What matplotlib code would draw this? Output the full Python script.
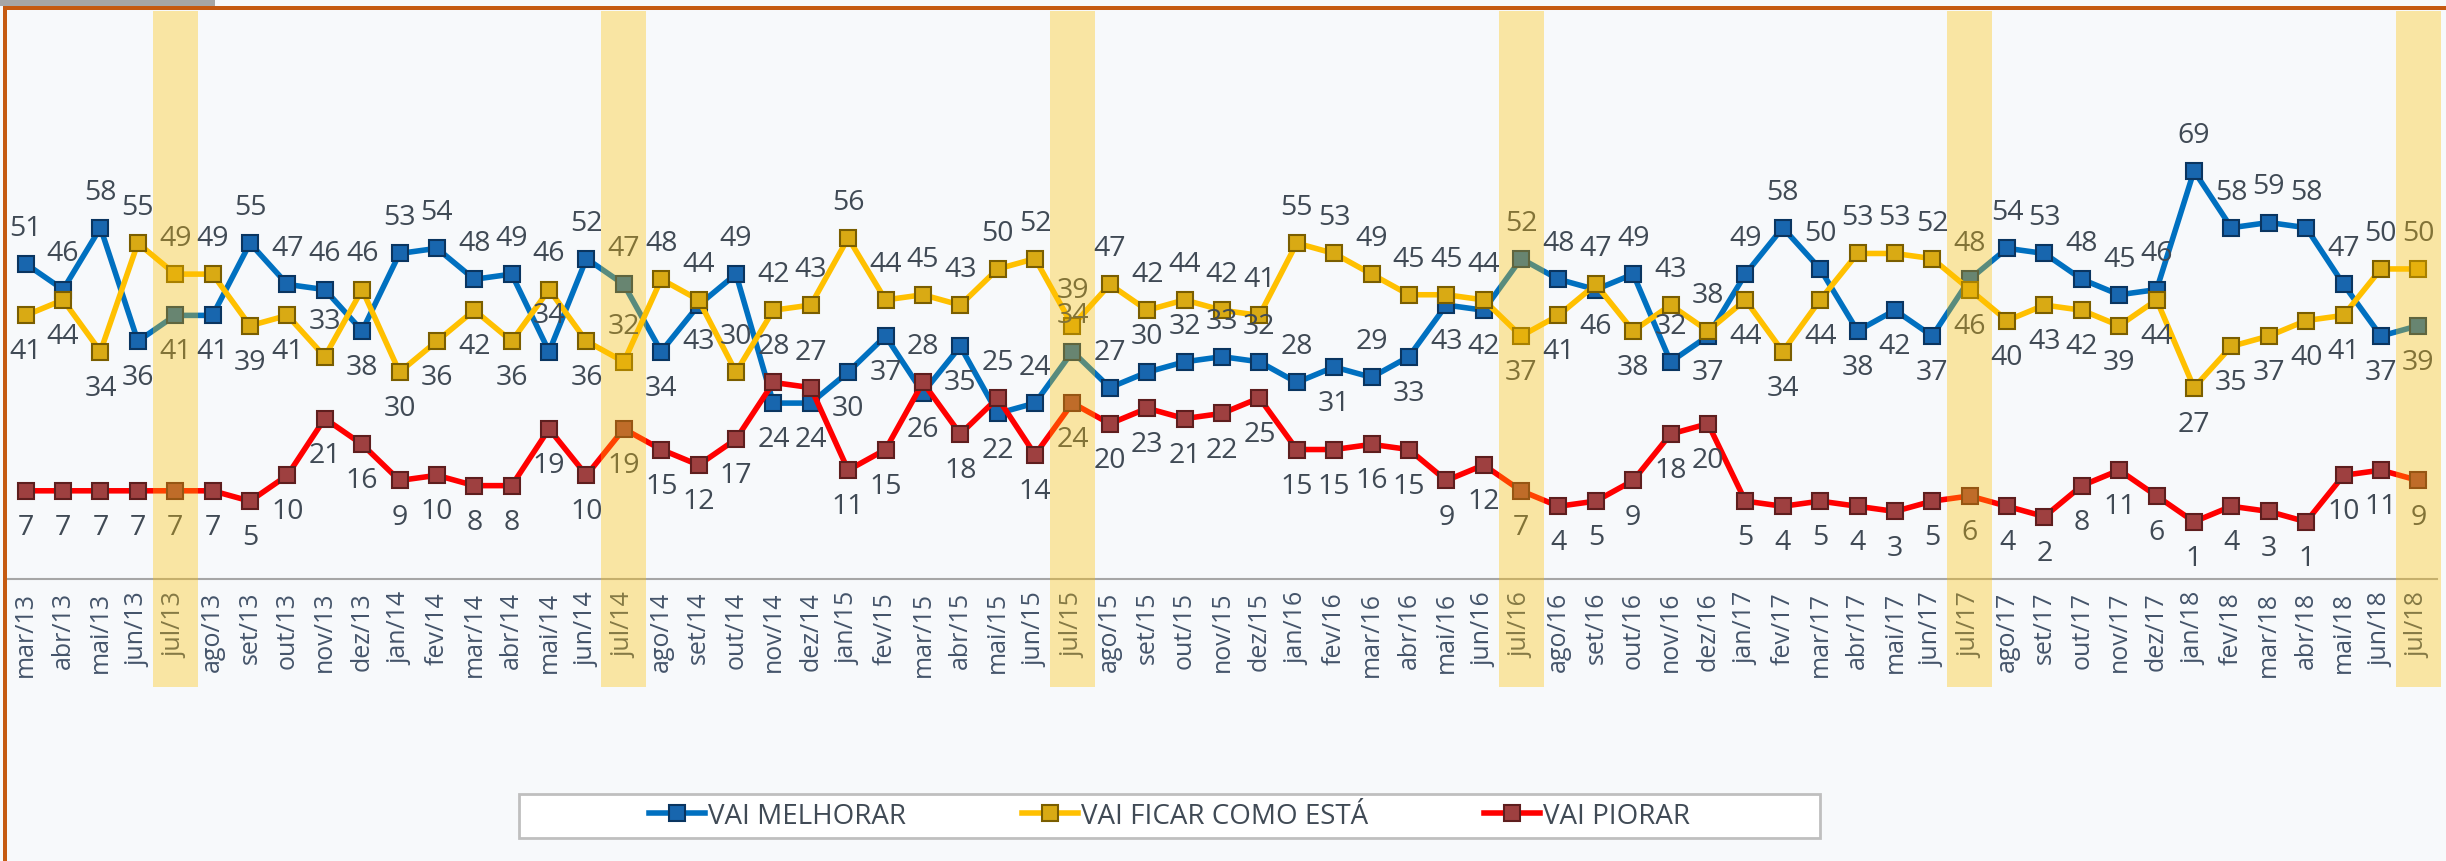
import numpy as np
import matplotlib.pyplot as plt
import matplotlib.transforms as mtransforms
from matplotlib.patches import Rectangle

plt.rcParams['font.family'] = ['Open Sans', 'DejaVu Sans']

months = ['mar/13', 'abr/13', 'mai/13', 'jun/13', 'jul/13', 'ago/13', 'set/13', 'out/13', 'nov/13', 'dez/13',
          'jan/14', 'fev/14', 'mar/14', 'abr/14', 'mai/14', 'jun/14', 'jul/14', 'ago/14', 'set/14', 'out/14', 'nov/14', 'dez/14',
          'jan/15', 'fev/15', 'mar/15', 'abr/15', 'mai/15', 'jun/15', 'jul/15', 'ago/15', 'set/15', 'out/15', 'nov/15', 'dez/15',
          'jan/16', 'fev/16', 'mar/16', 'abr/16', 'mai/16', 'jun/16', 'jul/16', 'ago/16', 'set/16', 'out/16', 'nov/16', 'dez/16',
          'jan/17', 'fev/17', 'mar/17', 'abr/17', 'mai/17', 'jun/17', 'jul/17', 'ago/17', 'set/17', 'out/17', 'nov/17', 'dez/17',
          'jan/18', 'fev/18', 'mar/18', 'abr/18', 'mai/18', 'jun/18', 'jul/18']

melhorar = [51, 46, 58, 36, 41, 41, 55, 47, 46, 38,
            53, 54, 48, 49, 34, 52, 47, 34, 43, 49, 24, 24,
            30, 37, 26, 35, 22, 24, 34, 27, 30, 32, 33, 32,
            28, 31, 29, 33, 43, 42, 52, 48, 46, 49, 32, 37,
            49, 58, 50, 38, 42, 37, 48, 54, 53, 48, 45, 46,
            69, 58, 59, 58, 47, 37, 39]

ficar = [41, 44, 34, 55, 49, 49, 39, 41, 33, 46,
         30, 36, 42, 36, 46, 36, 32, 48, 44, 30, 42, 43,
         56, 44, 45, 43, 50, 52, 39, 47, 42, 44, 42, 41,
         55, 53, 49, 45, 45, 44, 37, 41, 47, 38, 43, 38,
         44, 34, 44, 53, 53, 52, 46, 40, 43, 42, 39, 44,
         27, 35, 37, 40, 41, 50, 50]

piorar = [7, 7, 7, 7, 7, 7, 5, 10, 21, 16,
          9, 10, 8, 8, 19, 10, 19, 15, 12, 17, 28, 27,
          11, 15, 28, 18, 25, 14, 24, 20, 23, 21, 22, 25,
          15, 15, 16, 15, 9, 12, 7, 4, 5, 9, 18, 20,
          5, 4, 5, 4, 3, 5, 6, 4, 2, 8, 11, 6,
          1, 4, 3, 1, 10, 11, 9]

destaques = ['jul/13', 'jul/14', 'jul/15', 'jul/16', 'jul/17', 'jul/18']

W, H = 2446, 862
fig = plt.figure(figsize=(W / 100, H / 100), dpi=100)
fig.patch.set_facecolor('#F7F9FB')

ax = fig.add_axes([7 / W, (H - 579.5) / H, 2430 / W, 567.5 / H])
ax.set_facecolor('none')
x = np.arange(len(months))

series = [
    (melhorar, 'VAI MELHORAR', '#0070C0', '#1866AE', '#0A3560'),
    (ficar, 'VAI FICAR COMO ESTÁ', '#FFC000', '#D9AA14', '#7A5E00'),
    (piorar, 'VAI PIORAR', '#FF0000', '#9E4040', '#5E1E1E'),
]
for vals, name, cor, face, borda in series:
    ax.plot(x, vals, color=cor, lw=4, marker='s', ms=11, mfc=face, mec=borda, mew=1.5,
            label=name, zorder=3)

# rotulos: o maior entre melhorar/ficar acima, o menor abaixo (ou acima se o vermelho estiver perto)
lab = dict(ha='center', va='center', fontsize=20.5, color='#404A55', zorder=4, textcoords='offset points')
off = 26
for i in x:
    b, f, r = melhorar[i], ficar[i], piorar[i]
    lo = min(b, f)
    if r > lo:
        lo_up, r_up = False, True
    else:
        lo_up, r_up = (lo - r) <= 15, False
    if b >= f:
        b_up, f_up = True, lo_up
    else:
        b_up, f_up = lo_up, True
    ax.annotate(str(b), (i, b), xytext=(0, off if b_up else -off), **lab)
    ax.annotate(str(f), (i, f), xytext=(0, off if f_up else -off), **lab)
    ax.annotate(str(r), (i, r), xytext=(0, off if r_up else -off), **lab)

# faixas de destaque (julho)
trans = mtransforms.blended_transform_factory(ax.transData, ax.transAxes)
for m in destaques:
    i = months.index(m)
    ax.add_patch(Rectangle((i - 0.6, -0.192), 1.2, 1.192, transform=trans, facecolor='#FFC000',
                           alpha=0.35, lw=0, clip_on=False, zorder=10))

ax.set_xlim(-0.5, len(months) - 0.5)
ax.set_ylim(-10, 100)
ax.set_xticks(x)
ax.set_xticklabels(months, rotation=90, fontsize=18, color='#44546A')
ax.set_yticks([])
ax.tick_params(axis='x', length=0, pad=9)
for s in ['top', 'left', 'right']:
    ax.spines[s].set_visible(False)
ax.spines['bottom'].set_color('#A6A6A6')
ax.spines['bottom'].set_linewidth(1.5)

# moldura
fig.add_artist(Rectangle((0, (H - 7) / H), 215 / W, 7 / H, transform=fig.transFigure,
                         facecolor='#A6A6A6', lw=0))
fig.add_artist(Rectangle((3 / W, (H - 11) / H), (W - 3) / W, 4 / H, transform=fig.transFigure,
                         facecolor='#C55A11', lw=0))
fig.add_artist(Rectangle((3 / W, 0), 4 / W, (H - 7) / H, transform=fig.transFigure,
                         facecolor='#C55A11', lw=0))

# legenda
fig.add_artist(Rectangle((519 / W, (H - 839) / H), 1301 / W, 44 / H, transform=fig.transFigure,
                         facecolor='white', edgecolor='#BFBFBF', lw=2))
handles, labels = ax.get_legend_handles_labels()
fig.legend(handles, labels, loc='center', bbox_to_anchor=(1169.5 / W, (H - 817) / H), ncol=3,
           frameon=False, fontsize=20, handlelength=2.0, handletextpad=0.1, columnspacing=4.2,
           labelcolor='#404A55')

fig.savefig('out.png', dpi=100, facecolor=fig.get_facecolor())
